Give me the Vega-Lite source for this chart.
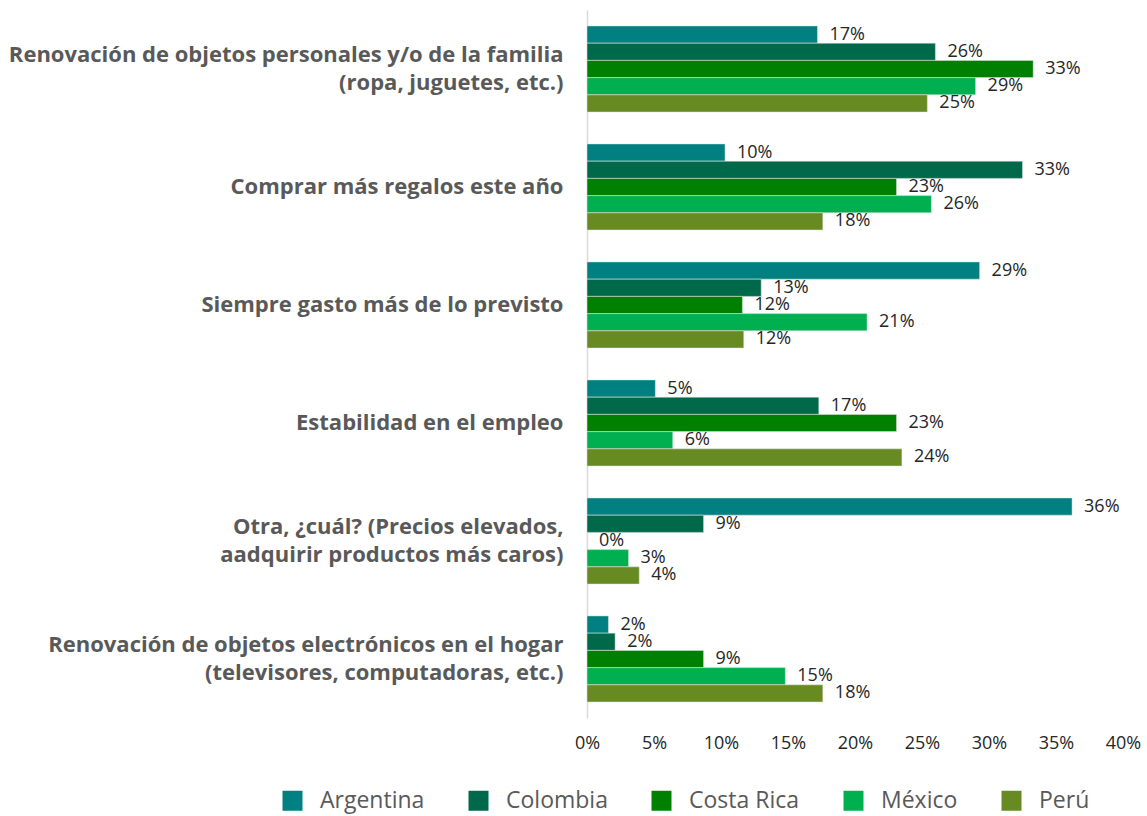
{
  "$schema": "https://vega.github.io/schema/vega-lite/v6.json",
  "autosize": "none",
  "padding": {"left": 587, "top": 10, "right": 24, "bottom": 98},
  "width": 536,
  "height": 708,
  "config": {
    "font": "Open Sans",
    "view": {"stroke": null}
  },
  "data": {
    "values": [
      {"cat": "Renovación de objetos personales y/o de la familia|(ropa, juguetes, etc.)", "country": "Argentina", "v": 0.172},
      {"cat": "Renovación de objetos personales y/o de la familia|(ropa, juguetes, etc.)", "country": "Colombia", "v": 0.260},
      {"cat": "Renovación de objetos personales y/o de la familia|(ropa, juguetes, etc.)", "country": "Costa Rica", "v": 0.333},
      {"cat": "Renovación de objetos personales y/o de la familia|(ropa, juguetes, etc.)", "country": "México", "v": 0.290},
      {"cat": "Renovación de objetos personales y/o de la familia|(ropa, juguetes, etc.)", "country": "Perú", "v": 0.254},
      {"cat": "Comprar más regalos este año", "country": "Argentina", "v": 0.103},
      {"cat": "Comprar más regalos este año", "country": "Colombia", "v": 0.325},
      {"cat": "Comprar más regalos este año", "country": "Costa Rica", "v": 0.231},
      {"cat": "Comprar más regalos este año", "country": "México", "v": 0.257},
      {"cat": "Comprar más regalos este año", "country": "Perú", "v": 0.176},
      {"cat": "Siempre gasto más de lo previsto", "country": "Argentina", "v": 0.293},
      {"cat": "Siempre gasto más de lo previsto", "country": "Colombia", "v": 0.130},
      {"cat": "Siempre gasto más de lo previsto", "country": "Costa Rica", "v": 0.116},
      {"cat": "Siempre gasto más de lo previsto", "country": "México", "v": 0.209},
      {"cat": "Siempre gasto más de lo previsto", "country": "Perú", "v": 0.117},
      {"cat": "Estabilidad en el empleo", "country": "Argentina", "v": 0.051},
      {"cat": "Estabilidad en el empleo", "country": "Colombia", "v": 0.173},
      {"cat": "Estabilidad en el empleo", "country": "Costa Rica", "v": 0.231},
      {"cat": "Estabilidad en el empleo", "country": "México", "v": 0.064},
      {"cat": "Estabilidad en el empleo", "country": "Perú", "v": 0.235},
      {"cat": "Otra, ¿cuál? (Precios elevados, |aadquirir productos más caros)", "country": "Argentina", "v": 0.362},
      {"cat": "Otra, ¿cuál? (Precios elevados, |aadquirir productos más caros)", "country": "Colombia", "v": 0.087},
      {"cat": "Otra, ¿cuál? (Precios elevados, |aadquirir productos más caros)", "country": "Costa Rica", "v": 0.0},
      {"cat": "Otra, ¿cuál? (Precios elevados, |aadquirir productos más caros)", "country": "México", "v": 0.031},
      {"cat": "Otra, ¿cuál? (Precios elevados, |aadquirir productos más caros)", "country": "Perú", "v": 0.039},
      {"cat": "Renovación de objetos electrónicos en el hogar|(televisores, computadoras, etc.)", "country": "Argentina", "v": 0.016},
      {"cat": "Renovación de objetos electrónicos en el hogar|(televisores, computadoras, etc.)", "country": "Colombia", "v": 0.021},
      {"cat": "Renovación de objetos electrónicos en el hogar|(televisores, computadoras, etc.)", "country": "Costa Rica", "v": 0.087},
      {"cat": "Renovación de objetos electrónicos en el hogar|(televisores, computadoras, etc.)", "country": "México", "v": 0.148},
      {"cat": "Renovación de objetos electrónicos en el hogar|(televisores, computadoras, etc.)", "country": "Perú", "v": 0.176}
    ]
  },
  "encoding": {
    "y": {
      "field": "cat",
      "type": "nominal",
      "sort": null,
      "title": null,
      "scale": {"paddingInner": 0.27, "paddingOuter": 0.135},
      "axis": {
        "labelExpr": "split(datum.label, '|')",
        "labelFont": "Open Sans",
        "labelFontWeight": "bold",
        "labelFontSize": 22,
        "labelColor": "#595959",
        "labelLineHeight": 28,
        "labelPadding": 24,
        "labelLimit": 700,
        "labelOffset": {"condition": {"test": "indexof(datum.value, '|') >= 0", "value": -14}, "value": 0},
        "ticks": false,
        "domainColor": "#d9d9d9",
        "domainWidth": 1.5
      }
    },
    "yOffset": {
      "field": "country",
      "type": "nominal",
      "sort": ["Argentina", "Colombia", "Costa Rica", "México", "Perú"],
      "scale": {"paddingInner": 0, "paddingOuter": 0}
    },
    "x": {
      "field": "v",
      "type": "quantitative",
      "title": null,
      "scale": {"domain": [0, 0.4], "nice": false},
      "axis": {
        "format": ".0%",
        "values": [0, 0.05, 0.1, 0.15, 0.2, 0.25, 0.3, 0.35, 0.4],
        "grid": false,
        "domain": false,
        "ticks": false,
        "labelFontSize": 18,
        "labelColor": "#262626",
        "labelPadding": 16,
        "labelFlush": false
      }
    }
  },
  "layer": [
    {
      "mark": {"type": "bar", "stroke": "#e6e6e6", "strokeWidth": 0.5},
      "encoding": {
        "color": {
          "field": "country",
          "type": "nominal",
          "sort": ["Argentina", "Colombia", "Costa Rica", "México", "Perú"],
          "scale": {
            "domain": ["Argentina", "Colombia", "Costa Rica", "México", "Perú"],
            "range": ["#008080", "#00694A", "#008000", "#00B050", "#678B22"]
          },
          "legend": {
            "title": null,
            "orient": "none",
            "direction": "horizontal",
            "columns": 5,
            "gridAlign": "each",
            "legendX": -306,
            "legendY": 779,
            "symbolType": "square",
            "symbolSize": 400,
            "symbolStrokeWidth": 0,
            "symbolOpacity": 1,
            "symbolOffset": 0,
            "labelFontSize": 23,
            "labelColor": "#595959",
            "labelOffset": 16,
            "columnPadding": 42,
            "labelLimit": 300
          }
        }
      }
    },
    {
      "mark": {"type": "text", "align": "left", "baseline": "middle", "dx": 12, "fontSize": 18, "color": "#262626"},
      "encoding": {
        "text": {"field": "v", "type": "quantitative", "format": ".0%"}
      }
    }
  ]
}
